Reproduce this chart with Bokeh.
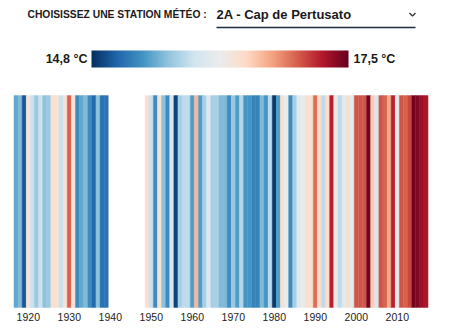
import numpy as np
from bokeh.plotting import figure
from bokeh.models import Range1d, LinearColorMapper, FixedTicker, ColumnDataSource
from bokeh.core.properties import value
from bokeh.embed import file_html
from bokeh.resources import INLINE

# ---------------- data ----------------
years_a = list(range(1917, 1940))
temps_a = [15.45, 15.55, 15.0, 16.3, 15.85, 15.65, 15.85, 15.6, 15.65, 16.35,
           16.3, 15.85, 16.3, 16.95, 16.3, 15.3, 15.45, 15.55, 15.3, 15.1,
           15.6, 15.15, 15.15]
years_b = list(range(1949, 2018))
temps_b = [16.35, 15.85, 15.3, 16.35, 15.6, 15.3, 15.95, 14.9, 15.7, 15.8,
           15.8, 15.4, 16.6, 15.4, 15.7, 16.0, 15.7, 15.7, 15.55, 15.55,
           15.3, 15.65, 15.4, 15.75, 15.35, 15.35, 15.25, 15.25, 15.55, 15.35,
           15.8, 14.85, 15.4, 16.35, 16.1, 15.3, 15.7, 16.05, 16.1, 16.35,
           16.35, 16.9, 16.4, 15.8, 16.4, 17.2, 16.2, 15.8, 16.05, 16.35,
           16.05, 17.0, 17.0, 17.0, 17.45, 16.5, 15.95, 17.0, 16.95, 16.65,
           17.2, 16.05, 17.0, 16.95, 17.05, 17.45, 17.4, 17.3, 17.25]
years = years_a + years_b
temps = temps_a + temps_b
tick_years = [1920, 1930, 1940, 1950, 1960, 1970, 1980, 1990, 2000, 2010]
t_min, t_max = 14.8, 17.5
prompt_text = "CHOISISSEZ UNE STATION MÉTÉO :"
station_text = "2A - Cap de Pertusato"
label_min = "14,8 °C"
label_max = "17,5 °C"

# ---------------- palette (RdBu, blue -> red) ----------------
stops = ['#053061', '#2166ac', '#4393c3', '#92c5de', '#d1e5f0', '#ececec',
         '#fddbc7', '#f4a582', '#d6604d', '#b2182b', '#67001f']

def interp(stops, n):
    rgb = np.array([[int(s[i:i + 2], 16) for i in (1, 3, 5)] for s in stops], float)
    pos = np.linspace(0, 1, len(stops))
    out = []
    for t in np.linspace(0, 1, n):
        c = [np.interp(t, pos, rgb[:, k]) for k in range(3)]
        out.append('#%02x%02x%02x' % tuple(int(round(v)) for v in c))
    return out

palette = interp(stops, 256)
mapper = LinearColorMapper(palette=palette, low=t_min, high=t_max)

# ---------------- figure ----------------
W, H = 450, 334
FH = 309  # frame height
px_per_year = 4.1
x0 = 1965 - 212.3 / px_per_year
x1 = x0 + W / px_per_year

p = figure(width=W, height=H, output_backend="svg", toolbar_location=None,
           x_range=Range1d(x0, x1), y_range=Range1d(0, FH),
           y_axis_location=None, min_border=0, min_border_bottom=H - FH)
p.extra_x_ranges = {"px": Range1d(0, W)}
p.outline_line_color = None
p.grid.visible = False
p.background_fill_color = "white"


def Y(py):
    return FH - py

src = ColumnDataSource(dict(year=years, temp=temps))
p.vbar(x='year', width=1, bottom=Y(307), top=Y(95), source=src,
       fill_color={'field': 'temp', 'transform': mapper},
       line_color={'field': 'temp', 'transform': mapper}, line_width=0.4)

# axis
ax = p.xaxis[0]
ax.ticker = FixedTicker(ticks=tick_years)
ax.axis_line_color = None
ax.major_tick_line_color = None
ax.minor_tick_line_color = None
ax.major_tick_out = 0
ax.major_tick_in = 0
ax.major_label_standoff = 3
ax.major_label_text_font = "Liberation Sans"
ax.major_label_text_font_size = "10.5px"
ax.major_label_text_color = "#222222"

# colour bar as gradient image
grad = np.linspace(t_min, t_max, 256).reshape(1, -1)
p.image(image=[grad], x=91, y=Y(67), dw=257, dh=17, color_mapper=mapper,
        x_range_name="px")

font = value("Liberation Sans")
p.text(x=[27], y=[Y(14)], text=[prompt_text], x_range_name="px",
       text_font=font, text_font_size="10.3px", text_font_style="bold",
       text_color="#1a1a1a", text_baseline="middle", text_align="left")
p.text(x=[216], y=[Y(13.5)], text=[station_text], x_range_name="px",
       text_font=font, text_font_size="13px", text_font_style="bold",
       text_color="#1a1a1a", text_baseline="middle", text_align="left")
p.line(x=[216, 415], y=[Y(27), Y(27)], x_range_name="px",
       line_color="#1f2d3d", line_width=1.5)
p.line(x=[409, 412, 415], y=[Y(12.5), Y(15.5), Y(12.5)], x_range_name="px",
       line_color="#333333", line_width=1.3)
p.text(x=[87], y=[Y(58.5)], text=[label_min], x_range_name="px",
       text_font=font, text_font_size="12.5px", text_font_style="bold",
       text_color="#1a1a1a", text_baseline="middle", text_align="right")
p.text(x=[353], y=[Y(58.5)], text=[label_max], x_range_name="px",
       text_font=font, text_font_size="12.5px", text_font_style="bold",
       text_color="#1a1a1a", text_baseline="middle", text_align="left")

open("out.html", "w").write(file_html(p, INLINE))
